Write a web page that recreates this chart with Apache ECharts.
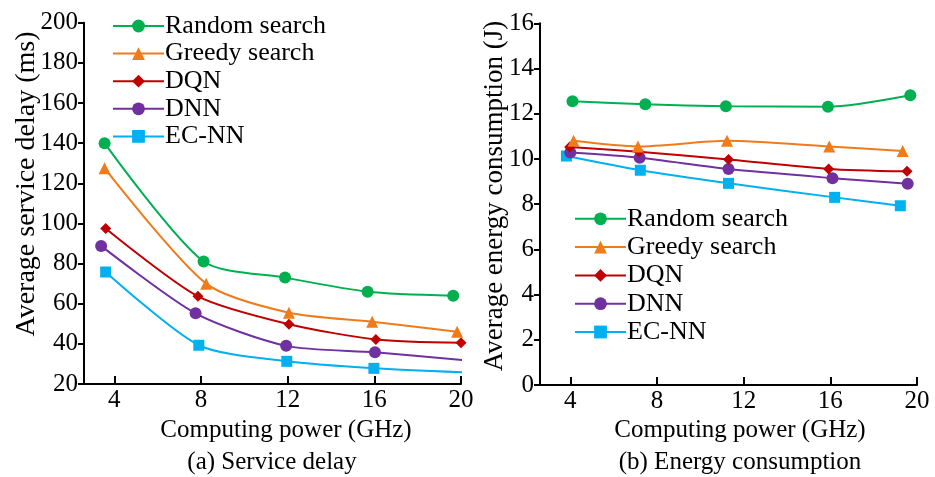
<!DOCTYPE html>
<html>
<head>
<meta charset="utf-8">
<script src="https://cdn.jsdelivr.net/npm/echarts@6/dist/echarts.min.js"></script>
<style>
html,body{margin:0;padding:0;background:#fff;}
#chart{width:935px;height:477px;}
</style>
</head>
<body>
<div id="chart"></div>
<script>
// ---- data ----
const seriesNames = ['Random search', 'Greedy search', 'DQN', 'DNN', 'EC-NN'];
const xTicks = [4, 8, 12, 16, 20];

// (a) Service delay (ms): x positions (GHz) and values
const delayX_random = [3.55, 8.12, 11.88, 15.69, 19.64];
const delay_random  = [140, 81, 73, 66, 64];
const delayX_greedy = [3.55, 8.24, 12.06, 15.9, 19.82];
const delay_greedy  = [127.5, 70, 55.5, 51, 46];
const delayX_dqn    = [3.6, 7.86, 12.06, 16.07, 20.0];
const delay_dqn     = [97.5, 63.7, 49.8, 42.2, 40.5];
const delayX_dnn    = [3.39, 7.75, 11.93, 16.03, 20.05];
const delay_dnn     = [88.8, 55.2, 39, 35.8, 32];
const delayX_ecnn   = [3.6, 7.9, 11.96, 15.98, 20.05];
const delay_ecnn    = [75.8, 39.3, 31.3, 27.8, 25.8];

// (b) Energy consumption (J)
const energyX_random = [4.1, 7.46, 11.18, 15.89, 19.69];
const energy_random  = [12.55, 12.42, 12.33, 12.31, 12.82];
const energyX_greedy = [4.15, 7.12, 11.23, 15.95, 19.34];
const energy_greedy  = [10.8, 10.55, 10.8, 10.55, 10.35];
const energyX_dqn    = [3.97, 7.17, 11.3, 15.92, 19.54];
const energy_dqn     = [10.53, 10.32, 9.98, 9.56, 9.45];
const energyX_dnn    = [4.0, 7.2, 11.3, 16.1, 19.57];
const energy_dnn     = [10.28, 10.05, 9.55, 9.15, 8.9];
const energyX_ecnn   = [3.82, 7.23, 11.3, 16.2, 19.23];
const energy_ecnn    = [10.13, 9.5, 8.92, 8.3, 7.93];

// ---- styles ----
const colors = ['#00B050', '#F07B1B', '#C00000', '#7030A0', '#00B0F0'];
const symbols = ['circle', 'triangle', 'diamond', 'circle', 'rect'];
const symSizes = [12, 12, 11, 12, 11];
const FONT = 'Liberation Serif, Times New Roman, serif';

function pairs(xs, ys) { return xs.map((x, i) => [x, ys[i]]); }

const delaySets = [
  pairs(delayX_random, delay_random), pairs(delayX_greedy, delay_greedy),
  pairs(delayX_dqn, delay_dqn), pairs(delayX_dnn, delay_dnn), pairs(delayX_ecnn, delay_ecnn)
];
const energySets = [
  pairs(energyX_random, energy_random), pairs(energyX_greedy, energy_greedy),
  pairs(energyX_dqn, energy_dqn), pairs(energyX_dnn, energy_dnn), pairs(energyX_ecnn, energy_ecnn)
];

function mkSeries(sets, idx) {
  return sets.map((d, i) => ({
    name: seriesNames[i], type: 'line', xAxisIndex: idx, yAxisIndex: idx,
    data: d, smooth: 0.25, symbol: symbols[i], symbolSize: symSizes[i],
    lineStyle: { color: colors[i], width: 2 },
    itemStyle: { color: colors[i] }, z: 10 - i
  }));
}

const axisLine = { show: true, lineStyle: { color: '#000', width: 2 } };
const labelStyle = { color: '#000', fontFamily: FONT, fontSize: 25 };

function mkX(idx) {
  return {
    type: 'value', gridIndex: idx, min: 2.6, max: 20,
    axisLine: axisLine,
    axisTick: { show: true, inside: true, length: 8, lineStyle: { color: '#000', width: 2 }, customValues: xTicks },
    axisLabel: Object.assign({ margin: 4, customValues: xTicks }, labelStyle),
    splitLine: { show: false }
  };
}
function mkY(idx, min, max, interval) {
  return {
    type: 'value', gridIndex: idx, min: min, max: max, interval: interval,
    axisLine: axisLine,
    axisTick: { show: true, inside: false, length: 6, lineStyle: { color: '#000', width: 2 } },
    axisLabel: Object.assign({ margin: 6 }, labelStyle),
    splitLine: { show: false }
  };
}

function legendCommon(gap) {
  return {
    orient: 'vertical', itemWidth: 51, itemHeight: 16, itemGap: gap, padding: 0,
    textStyle: { color: '#000', fontFamily: FONT, fontSize: 26, padding: [0, 0, 0, -4] },
    data: seriesNames
  };
}

const chart = echarts.init(document.getElementById('chart'), null, { renderer: 'canvas' });
chart.setOption({
  animation: false,
  backgroundColor: '#fff',
  grid: [
    { left: 84, top: 22.7, width: 377, height: 361.3 },
    { left: 540, top: 23.3, width: 377, height: 361.7 }
  ],
  xAxis: [mkX(0), mkX(1)],
  yAxis: [mkY(0, 20, 200, 20), mkY(1, 0, 16, 2)],
  legend: [
    Object.assign({ left: 112, top: 13 }, legendCommon(1.6)),
    Object.assign({ left: 574, top: 205.8 }, legendCommon(2.3))
  ],
  graphic: [
    { type: 'text', x: 286, y: 430, style: { text: 'Computing power (GHz)', font: '25px ' + FONT, fill: '#000', align: 'center', verticalAlign: 'middle' } },
    { type: 'text', x: 740, y: 430, style: { text: 'Computing power (GHz)', font: '25px ' + FONT, fill: '#000', align: 'center', verticalAlign: 'middle' } },
    { type: 'text', x: 272, y: 462, style: { text: '(a) Service delay', font: '25px ' + FONT, fill: '#000', align: 'center', verticalAlign: 'middle' } },
    { type: 'text', x: 740, y: 462, style: { text: '(b) Energy consumption', font: '25px ' + FONT, fill: '#000', align: 'center', verticalAlign: 'middle' } },
    { type: 'text', x: 27, y: 184, rotation: Math.PI / 2, style: { text: 'Average service delay (ms)', font: '28px ' + FONT, fill: '#000', align: 'center', verticalAlign: 'middle' } },
    { type: 'text', x: 495, y: 196, rotation: Math.PI / 2, style: { text: 'Average energy consumption (J)', font: '27px ' + FONT, fill: '#000', align: 'center', verticalAlign: 'middle' } }
  ],
  series: mkSeries(delaySets, 0).concat(mkSeries(energySets, 1))
});
</script>
</body>
</html>
